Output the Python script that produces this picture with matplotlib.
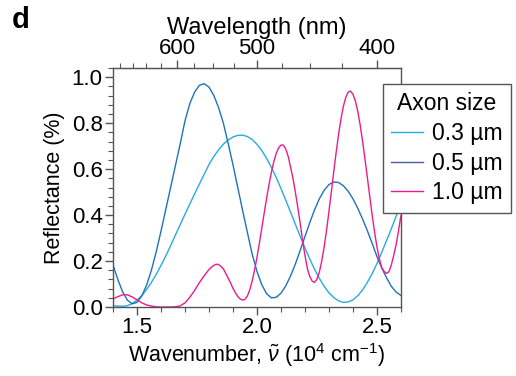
import numpy as np
import matplotlib
matplotlib.use("Agg")
import matplotlib.pyplot as plt
from matplotlib.lines import Line2D
from matplotlib.ticker import MultipleLocator, FixedLocator

plt.rcParams['font.family'] = ['Liberation Sans', 'DejaVu Sans']
plt.rcParams['mathtext.fontset'] = 'custom'
plt.rcParams['mathtext.rm'] = 'Liberation Sans'
plt.rcParams['mathtext.it'] = 'Liberation Sans:italic'

# wavenumber grid (10^4 cm^-1)
wavenumber = np.round(np.arange(1.40, 2.6001, 0.02), 2)
# finer grid for the narrow 1.0 um peaks
wn_10 = np.round(np.concatenate([np.arange(1.40, 1.8001, 0.02),
                                 np.arange(1.81, 2.6001, 0.01)]), 2)

# reflectance
r_03 = [0.006, 0.004, 0.003, 0.006, 0.015, 0.030, 0.050, 0.076, 0.107, 0.142,
        0.181, 0.222, 0.267, 0.313, 0.358, 0.404, 0.448, 0.492, 0.535, 0.578,
        0.620, 0.655, 0.684, 0.709, 0.727, 0.740, 0.747, 0.748, 0.742, 0.729,
        0.708, 0.681, 0.647, 0.608, 0.564, 0.516, 0.465, 0.413, 0.360, 0.308,
        0.257, 0.209, 0.164, 0.125, 0.090, 0.062, 0.041, 0.027, 0.020, 0.022,
        0.031, 0.049, 0.074, 0.107, 0.145, 0.189, 0.238, 0.289, 0.341, 0.395,
        0.447]
r_05 = [0.183, 0.120, 0.066, 0.030, 0.014, 0.020, 0.048, 0.095, 0.160, 0.240,
        0.330, 0.425, 0.520, 0.615, 0.710, 0.810, 0.885, 0.935, 0.965, 0.972,
        0.957, 0.921, 0.868, 0.800, 0.712, 0.619, 0.520, 0.421, 0.325, 0.230,
        0.155, 0.097, 0.058, 0.040, 0.042, 0.060, 0.092, 0.135, 0.187, 0.246,
        0.307, 0.367, 0.423, 0.471, 0.508, 0.533, 0.544, 0.542, 0.528, 0.504,
        0.471, 0.430, 0.383, 0.332, 0.277, 0.220, 0.170, 0.127, 0.090, 0.065,
        0.050]
r_10 = [0.035, 0.045, 0.053, 0.053, 0.044, 0.031, 0.018, 0.009, 0.004, 0.001,
        0.000, 0.000, 0.000, 0.001, 0.005, 0.018, 0.042, 0.072, 0.106, 0.136,
        0.163,
        0.173, 0.181, 0.186, 0.185, 0.177, 0.166, 0.146, 0.125, 0.105, 0.081,
        0.062, 0.046, 0.035, 0.030, 0.033, 0.048, 0.075, 0.113, 0.161, 0.216,
        0.278, 0.342, 0.408, 0.472, 0.532, 0.586, 0.632, 0.668, 0.692, 0.705,
        0.705, 0.688, 0.656, 0.609, 0.560, 0.500, 0.435, 0.365, 0.290, 0.225,
        0.168, 0.133, 0.113, 0.107, 0.121, 0.152, 0.200, 0.261, 0.334, 0.416,
        0.502, 0.589, 0.673, 0.750, 0.818, 0.873, 0.912, 0.935, 0.940, 0.926,
        0.897, 0.852, 0.793, 0.723, 0.645, 0.564, 0.482, 0.401, 0.327, 0.262,
        0.210, 0.172, 0.155, 0.146, 0.154, 0.183, 0.225, 0.272, 0.332, 0.398]

labels = ['0.3 µm', '0.5 µm', '1.0 µm']
colors = ['#29abe2', '#1f72bd', '#ec1c8c']
legend_colors = ['#29abe2', '#4a5aa6', '#ec1c8c']
top_major = [600, 500, 400]
top_minor = [425, 450, 475, 525, 550, 575, 625, 650, 675, 700]

axis_col = '#555555'

fig = plt.figure(figsize=(5.16, 3.76), dpi=100)
ax = fig.add_axes([0.219, 0.1835, 0.558, 0.6355])

ax.plot(wavenumber, r_03, color=colors[0], lw=1.0)
ax.plot(wavenumber, r_05, color=colors[1], lw=1.0)
ax.plot(wn_10, r_10, color=colors[2], lw=1.0)

ax.set_xlim(1.4, 2.6)
ax.set_ylim(0, 1.04)
ax.xaxis.set_major_locator(MultipleLocator(0.5))
ax.xaxis.set_minor_locator(MultipleLocator(0.1))
ax.yaxis.set_major_locator(MultipleLocator(0.2))
ax.yaxis.set_minor_locator(MultipleLocator(0.04))
ax.set_xticks([1.5, 2.0, 2.5], ['1.5', '2.0', '2.5'])
ax.set_yticks([0, 0.2, 0.4, 0.6, 0.8, 1.0], ['0.0', '0.2', '0.4', '0.6', '0.8', '1.0'])

for s in ax.spines.values():
    s.set_color(axis_col)
    s.set_linewidth(1.0)
ax.tick_params(which='major', length=5.5, width=1.0, color=axis_col, labelsize=16, pad=2)
ax.tick_params(which='minor', length=3.5, width=0.8, color=axis_col)

ax.set_xlabel(r'Wavenumber, $\tilde{\nu}$ (10$^{4}$ cm$^{-1}$)', fontsize=15.5, labelpad=2)
ax.set_ylabel('Reflectance (%)', fontsize=15.5, labelpad=5)

top = ax.secondary_xaxis('top', functions=(lambda x: 1000 / x, lambda x: 1000 / x))
top.xaxis.set_major_locator(FixedLocator(top_major))
top.xaxis.set_minor_locator(FixedLocator(top_minor))
top.spines['top'].set_color(axis_col)
top.tick_params(which='major', length=5.5, width=1.0, color=axis_col, labelsize=16, pad=1)
top.tick_params(which='minor', length=3.5, width=0.8, color=axis_col)
top.set_xlabel('Wavelength (nm)', fontsize=17, labelpad=3)

handles = [Line2D([], [], color=c, lw=1.0) for c in legend_colors]
leg = fig.legend(handles, labels, title='Axon size', loc='upper left',
                 bbox_to_anchor=(0.742, 0.777), borderaxespad=0,
                 fontsize=16.5, title_fontsize=16.5, frameon=True, fancybox=False,
                 handlelength=1.4, handletextpad=0.4, labelspacing=0.3,
                 borderpad=0.35)
leg.get_frame().set_edgecolor(axis_col)
leg.get_frame().set_linewidth(1.0)
leg.get_frame().set_alpha(1)

fig.text(0.022, 0.985, 'd', fontsize=21, fontweight='bold', va='top', ha='left')

fig.savefig('out.png', dpi=100)
